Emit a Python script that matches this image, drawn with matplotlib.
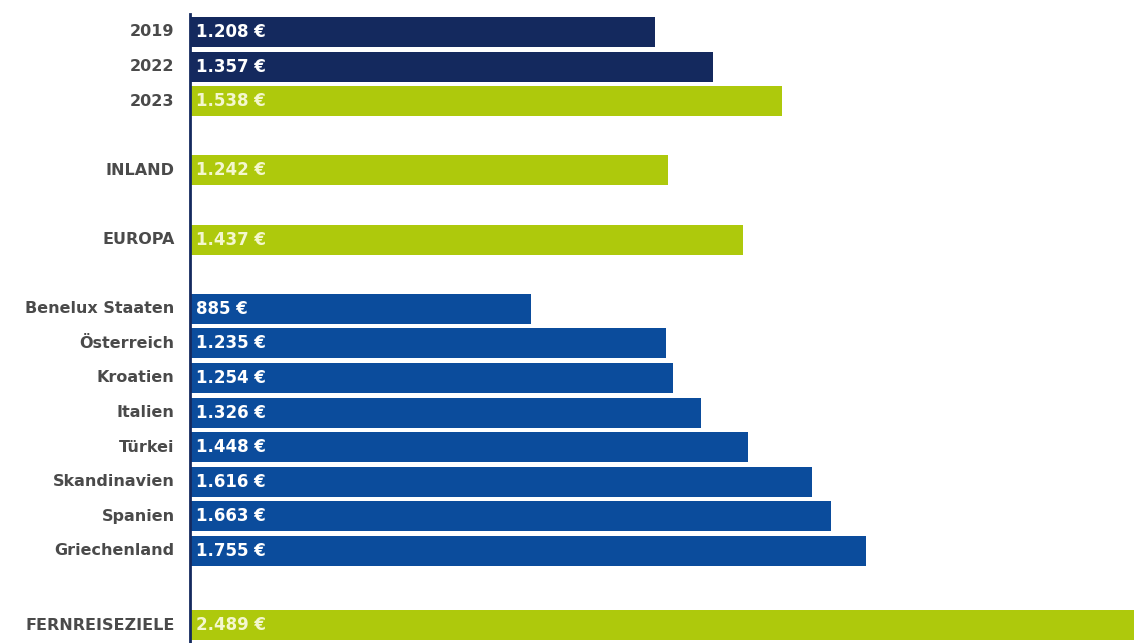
import matplotlib.pyplot as plt

plt.rcParams['font.family'] = ['DejaVu Sans']

labels = ['2019', '2022', '2023', 'INLAND', 'EUROPA', 'Benelux Staaten', 'Österreich',
          'Kroatien', 'Italien', 'Türkei', 'Skandinavien', 'Spanien', 'Griechenland',
          'FERNREISEZIELE']
values = [1208, 1357, 1538, 1242, 1437, 885, 1235, 1254, 1326, 1448, 1616, 1663, 1755, 2489]
groups = ['year', 'year', 'hl', 'hl', 'hl', 'land', 'land', 'land', 'land', 'land',
          'land', 'land', 'land', 'hl']
# empty slots before each row
gaps = [0, 0, 0, 1, 1, 1, 0, 0, 0, 0, 0, 0, 0, 1.15]

colors = {'year': '#14295e', 'land': '#0b4c9c', 'hl': '#aec90c'}
txtcol = {'year': 'white', 'land': 'white', 'hl': '#f4f7cf'}

pos = []
p = 0
for i, g in enumerate(gaps):
    p += g + (1 if i > 0 else 0)
    pos.append(p)

fig = plt.figure(figsize=(11.34, 6.43), dpi=100)
ax = fig.add_axes([190 / 1134, 0, 944 / 1134, 1 - 14 / 643])

ax.barh(pos, values, height=0.87, color=[colors[g] for g in groups], zorder=2)
for y, v, g in zip(pos, values, groups):
    s = f'{v:,}'.replace(',', '.') + ' €'
    ax.text(15, y, s, va='center', ha='left', color=txtcol[g], fontsize=12,
            fontweight='bold', zorder=3)

ax.set_xlim(0, 2451)
ax.set_ylim(17.66, -0.52)
ax.set_yticks(pos)
ax.set_yticklabels(labels, fontsize=11.5, color='#4a4a4a', fontweight='bold',
                   va='center')
ax.tick_params(axis='y', length=0, pad=11)
ax.set_xticks([])
for s in ['top', 'right', 'bottom']:
    ax.spines[s].set_visible(False)
ax.spines['left'].set_color('#14295e')
ax.spines['left'].set_linewidth(2)

fig.savefig('out.png', dpi=100)
